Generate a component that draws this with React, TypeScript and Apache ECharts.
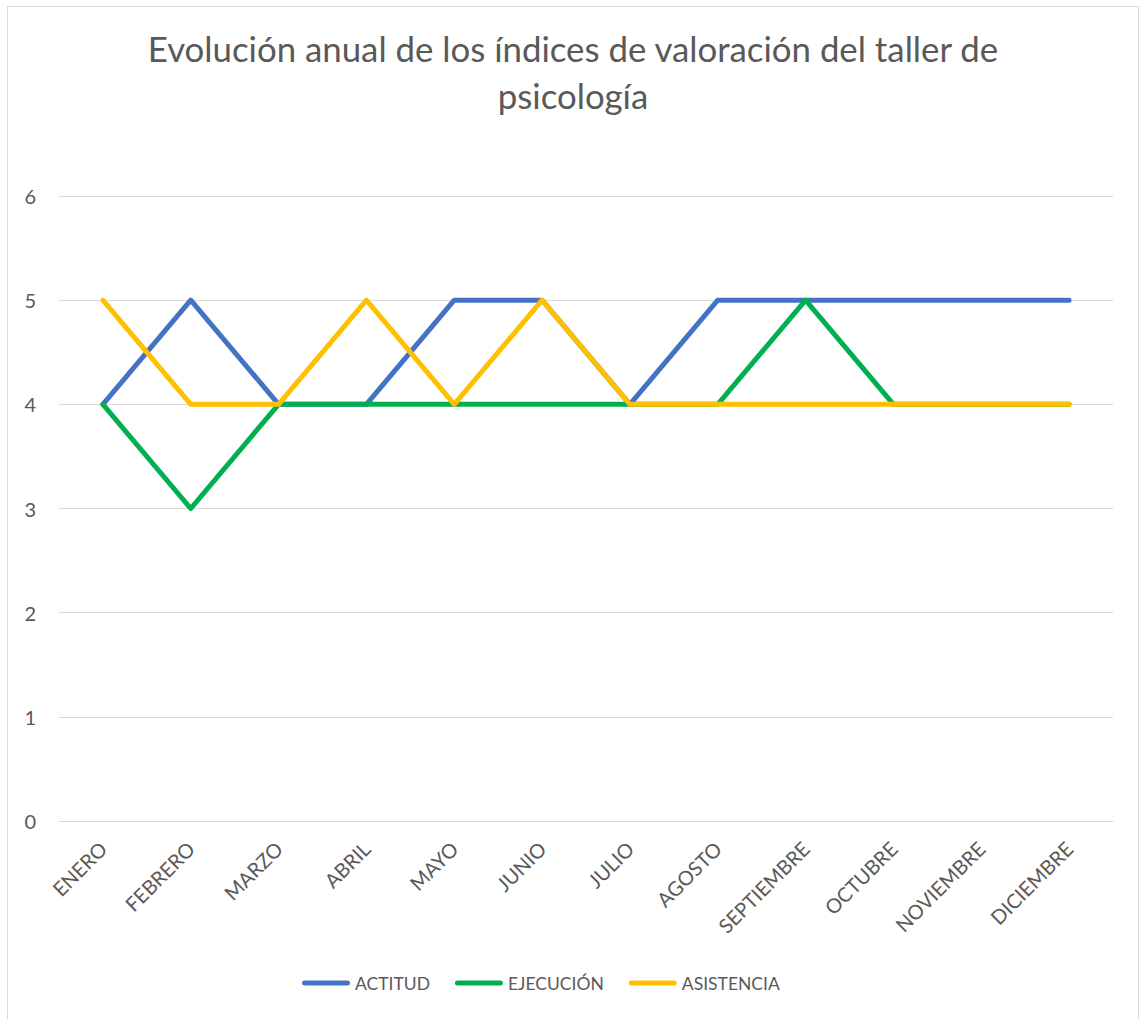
import React, { useEffect, useRef } from "react";
import * as echarts from "echarts";

const months = ["ENERO", "FEBRERO", "MARZO", "ABRIL", "MAYO", "JUNIO", "JULIO", "AGOSTO", "SEPTIEMBRE", "OCTUBRE", "NOVIEMBRE", "DICIEMBRE"];
const actitud = [4, 5, 4, 4, 5, 5, 4, 5, 5, 5, 5, 5];
const ejecucion = [4, 3, 4, 4, 4, 4, 4, 4, 5, 4, 4, 4];
const asistencia = [5, 4, 4, 5, 4, 5, 4, 4, 4, 4, 4, 4];
const seriesNames = ["ACTITUD", "EJECUCIÓN", "ASISTENCIA"];
const seriesColors = ["#4472C4", "#00B050", "#FFC000"];
const titleText = "Evolución anual de los índices de valoración del taller de\npsicología";

const FONT = "Lato, 'Liberation Sans', sans-serif";
const GRAY = "#595959";
const LEGEND_ICON = "path://M2.5,0 H45.5 A2.5,2.5 0 0 1 45.5,5 H2.5 A2.5,2.5 0 0 1 2.5,0 Z";

export default function App() {
  const ref = useRef<HTMLDivElement>(null);
  useEffect(() => {
    document.body.style.margin = "0";
    const chart = echarts.init(ref.current!, null, { renderer: "svg" });
    const data = [actitud, ejecucion, asistencia];
    chart.setOption({
      animation: false,
      backgroundColor: "#ffffff",
      textStyle: { fontFamily: FONT },
      title: {
        text: titleText,
        left: 568,
        top: 20,
        textAlign: "center",
        textStyle: { fontFamily: FONT, fontSize: 34.8, fontWeight: "normal", color: GRAY, lineHeight: 47 },
      },
      graphic: [
        {
          type: "rect",
          shape: { x: 7.5, y: 6.5, width: 1131, height: 1100 },
          style: { fill: "none", stroke: "#D9D9D9", lineWidth: 1 },
          silent: true,
          z: -1,
        },
      ],
      legend: {
        bottom: 27,
        left: 302,
        padding: 0,
        icon: LEGEND_ICON,
        itemWidth: 48,
        itemHeight: 5,
        itemGap: 25,
        textStyle: { fontFamily: FONT, fontSize: 17.5, color: GRAY },
        data: seriesNames,
      },
      grid: { left: 59, right: 29, top: 196, bottom: 198, containLabel: false },
      xAxis: {
        type: "category",
        data: months,
        boundaryGap: true,
        axisLine: { lineStyle: { color: "#D9D9D9", width: 1 } },
        axisTick: { show: false },
        axisLabel: { rotate: 45, margin: 24, fontFamily: FONT, fontSize: 20, color: GRAY, interval: 0 },
      },
      yAxis: {
        type: "value",
        min: 0,
        max: 6,
        interval: 1,
        axisLine: { show: false },
        axisTick: { show: false },
        axisLabel: { margin: 23, fontFamily: FONT, fontSize: 20, color: GRAY },
        splitLine: { lineStyle: { color: "#D9D9D9", width: 1 } },
      },
      series: seriesNames.map((name, i) => ({
        name,
        type: "line",
        data: data[i],
        symbol: "none",
        showSymbol: false,
        color: seriesColors[i],
        lineStyle: { width: 5, color: seriesColors[i], cap: "round", join: "round" },
        z: 2 + i,
      })),
    });
    return () => chart.dispose();
  }, []);
  return <div ref={ref} style={{ width: 1142, height: 1019 }} />;
}
